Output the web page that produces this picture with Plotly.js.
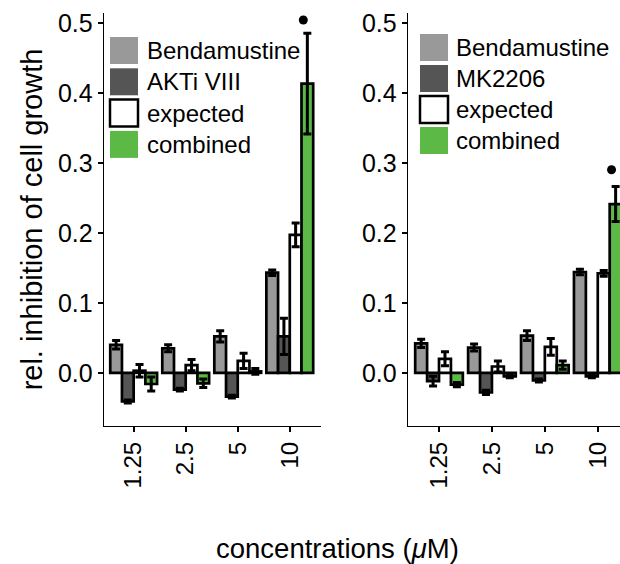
<!DOCTYPE html>
<html>
<head>
<meta charset="utf-8">
<script src="https://cdn.plot.ly/plotly-3.0.1.min.js"></script>
<style>html,body{margin:0;padding:0;background:#fff;}#chart{width:620px;height:564px;}</style>
</head>
<body>
<div id="chart"></div>
<script>
// ---- data ----
const concentrations = ['1.25', '2.5', '5', '10'];

// left panel: Bendamustine + AKTi VIII
const bendaA     = [0.040, 0.035, 0.052, 0.143];
const bendaAErr  = [0.006, 0.005, 0.008, 0.004];
const aktiVals   = [-0.041, -0.024, -0.034, 0.052];
const aktiErr    = [0.002, 0.002, 0.002, 0.026];
const expA       = [0.003, 0.011, 0.017, 0.197];
const expAErr    = [0.009, 0.008, 0.011, 0.017];
const combA      = [-0.016, -0.015, 0.002, 0.413];
const combAErr   = [0.010, 0.006, 0.004, 0.072];
const sigA       = [null, null, null, 0.504];

// right panel: Bendamustine + MK2206
const bendaB     = [0.042, 0.036, 0.053, 0.144];
const bendaBErr  = [0.006, 0.005, 0.007, 0.004];
const mkVals     = [-0.012, -0.028, -0.011, -0.005];
const mkErr      = [0.007, 0.003, 0.002, 0.002];
const expB       = [0.020, 0.009, 0.037, 0.142];
const expBErr    = [0.010, 0.008, 0.012, 0.004];
const combB      = [-0.017, -0.005, 0.011, 0.241];
const combBErr   = [0.003, 0.002, 0.006, 0.025];
const sigB       = [null, null, null, 0.290];

const seriesNamesA = ['Bendamustine', 'AKTi VIII', 'expected', 'combined'];
const seriesNamesB = ['Bendamustine', 'MK2206', 'expected', 'combined'];
const yTickVals = [0, 0.1, 0.2, 0.3, 0.4, 0.5];
const yTickText = ['0.0', '0.1', '0.2', '0.3', '0.4', '0.5'];

// ---- style ----
const colors = ['#999999', '#555555', '#ffffff', '#5cb946'];
const FONT = 'Liberation Sans, Arial, Helvetica, sans-serif';
const W = 620, H = 564, ML = 104, MR = 0, MT = 13, MB = 138;
const PW = W - ML - MR, PH = H - MT - MB;
const fx = px => (px - ML) / PW;
const fy = py => (H - MB - py) / PH;

const pos = concentrations.map((c, i) => i + 1);
const starOffset = 0.26;

function barTrace(name, y, err, color, xa, ya) {
  return {
    type: 'bar', name: name, x: pos, y: y,
    xaxis: xa, yaxis: ya,
    marker: {color: color, line: {color: '#000', width: 2.7}},
    error_y: {type: 'data', array: err, visible: true, color: '#000', thickness: 3, width: 4},
    showlegend: false, hoverinfo: 'skip'
  };
}

const leftVals = [[bendaA, bendaAErr], [aktiVals, aktiErr], [expA, expAErr], [combA, combAErr]];
const rightVals = [[bendaB, bendaBErr], [mkVals, mkErr], [expB, expBErr], [combB, combBErr]];

const data = [];
leftVals.forEach((v, k) => data.push(barTrace(seriesNamesA[k], v[0], v[1], colors[k], 'x', 'y')));
rightVals.forEach((v, k) => data.push(barTrace(seriesNamesB[k], v[0], v[1], colors[k], 'x2', 'y2')));

data.push({type: 'scatter', mode: 'markers', x: pos.map(p => p + starOffset), y: sigA,
  xaxis: 'x', yaxis: 'y', marker: {color: '#000', size: 9, symbol: 'circle'}, showlegend: false, hoverinfo: 'skip'});
data.push({type: 'scatter', mode: 'markers', x: pos.map(p => p + starOffset), y: sigB,
  xaxis: 'x2', yaxis: 'y2', marker: {color: '#000', size: 9, symbol: 'circle'}, showlegend: false, hoverinfo: 'skip'});

const yRange = [-0.076, 0.514];
function xAxis(domain, range, anchor) {
  return {
    domain: domain, range: range, anchor: anchor, type: 'linear',
    tickvals: pos, ticktext: concentrations, tickangle: -90,
    showline: true, linecolor: '#000', linewidth: 1.3,
    ticks: 'outside', ticklen: 5, tickwidth: 2, tickcolor: '#000',
    showgrid: false, zeroline: false,
    tickfont: {family: FONT, size: 24, color: '#000'}
  };
}
function yAxis(anchor, title) {
  const a = {
    domain: [0, 1], range: yRange, anchor: anchor,
    tickvals: yTickVals, ticktext: yTickText,
    showline: true, linecolor: '#000', linewidth: 1.3,
    ticks: 'outside', ticklen: 5, tickwidth: 2, tickcolor: '#000',
    showgrid: false, zeroline: false,
    tickfont: {family: FONT, size: 25, color: '#000'}
  };
  if (title) a.title = {text: title, font: {family: FONT, size: 29, color: '#000'}, standoff: 6};
  return a;
}

// legend keys (drawn as shapes) + labels
const shapes = [], annotations = [];
function legend(names, keyX, textX, top, step) {
  names.forEach((n, k) => {
    const y0 = top + k * step, y1 = y0 + 27;
    shapes.push({type: 'rect', xref: 'paper', yref: 'paper',
      x0: fx(keyX), x1: fx(keyX + 28), y0: fy(y1), y1: fy(y0),
      fillcolor: colors[k], line: {color: k === 2 ? '#000' : 'rgba(0,0,0,0)', width: k === 2 ? 2.5 : 0}});
    annotations.push({xref: 'paper', yref: 'paper', x: fx(textX), y: fy((y0 + y1) / 2),
      xanchor: 'left', yanchor: 'middle', text: n, showarrow: false,
      font: {family: FONT, size: 24, color: '#000'}});
  });
}
legend(seriesNamesA, 110, 145, 37, 31.3);
legend(seriesNamesB, 420, 454, 34, 31);

annotations.push({xref: 'paper', yref: 'paper', x: fx(337), y: fy(548), xanchor: 'center', yanchor: 'middle',
  text: 'concentrations (<i>μ</i>M)', showarrow: false, font: {family: FONT, size: 27.5, color: '#000'}});

const layout = {
  width: W, height: H,
  margin: {l: ML, r: MR, t: MT, b: MB, pad: 0},
  paper_bgcolor: '#fff', plot_bgcolor: '#fff',
  barmode: 'group', bargap: 0.1, bargroupgap: 0,
  showlegend: false,
  xaxis: xAxis([0, fx(321)], [0.43, 4.6], 'y'),
  yaxis: yAxis('x', 'rel. inhibition of cell growth'),
  xaxis2: xAxis([fx(408), 1], [0.414, 4.42], 'y2'),
  yaxis2: yAxis('x2', null),
  shapes: shapes, annotations: annotations,
  font: {family: FONT, color: '#000'}
};

Plotly.newPlot('chart', data, layout, {staticPlot: true, displayModeBar: false});
</script>
</body>
</html>
